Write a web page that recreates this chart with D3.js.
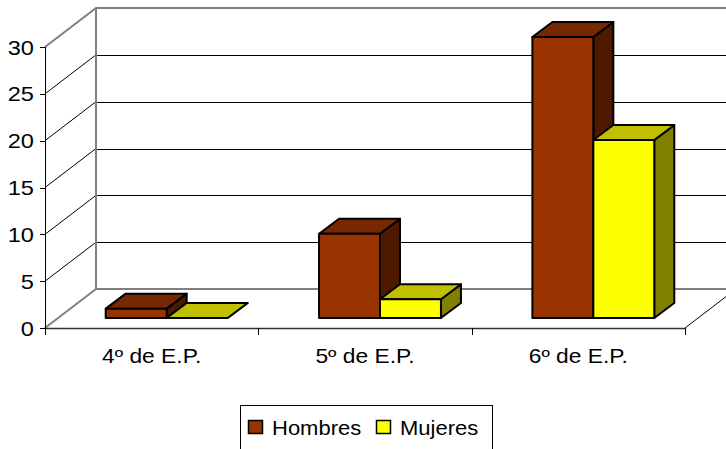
<!DOCTYPE html>
<html>
<head>
<meta charset="utf-8">
<script src="https://cdn.jsdelivr.net/npm/d3@7"></script>
<style>
  body { margin: 0; background: #fff; }
  text { font-family: "Liberation Sans", Arial, sans-serif; fill: #000; }
</style>
</head>
<body>
<div id="chart"></div>
<script>
// 1. DATA
const categories = ["4º de E.P.", "5º de E.P.", "6º de E.P."]
const seriesNames = ["Hombres", "Mujeres"]
const hombres = [1, 9, 30]
const mujeres = [0, 2, 19]
const yTicks = [0, 5, 10, 15, 20, 25, 30]

const seriesColors = {
    Hombres: { front: "#993300", top: "#782800", side: "#4d1a00" },
    Mujeres: { front: "#ffff00", top: "#c0c000", side: "#808000" },
}

const table = categories.map((c, i) => ({
    category: c,
    values: [
        { key: "Hombres", value: hombres[i] },
        { key: "Mujeres", value: mujeres[i] },
    ]
}))

// 2. DIMENSIONS
const width = 726
const height = 449
const plot = { left: 45, right: 685, top: 47, bottom: 328 }
// depth of the 3d box, and where the bars sit in it
const depth = { dx: 51, dy: -39 }
const barPlaneFront = { dx: 15, dy: -10 }
const barDepth = { dx: 20, dy: -15 }
const textStretch = 1.18

// 3. CANVAS
const svg = d3.select("#chart").append("svg")
    .attr("width", width)
    .attr("height", height)

// 4. SCALES
const xScale = d3.scaleBand()
    .domain(categories)
    .range([plot.left, plot.right])
    .padding(0)

const seriesScale = d3.scaleBand()
    .domain(seriesNames)
    .range([0, xScale.bandwidth()])
    .paddingInner(0)
    .paddingOuter(0.75)

const yScale = d3.scaleLinear()
    .domain([0, 30])
    .range([plot.bottom, plot.top])

const grey = "#808080"

// 5. WALLS AND GRID
const walls = svg.append("g")

// side wall diagonals
yTicks.slice(1, -1).forEach(t => {
    walls.append("line")
        .attr("x1", plot.left).attr("y1", yScale(t))
        .attr("x2", plot.left + depth.dx).attr("y2", yScale(t) + depth.dy)
        .attr("stroke", "#000").attr("stroke-width", 1)
})
// back wall grid lines
yTicks.slice(1, -1).forEach(t => {
    walls.append("line")
        .attr("x1", plot.left + depth.dx).attr("y1", Math.round(yScale(t) + depth.dy) + 0.5)
        .attr("x2", plot.right + depth.dx).attr("y2", Math.round(yScale(t) + depth.dy) + 0.5)
        .attr("stroke", "#000").attr("stroke-width", 1)
})

const bx0 = plot.left + depth.dx
const bx1 = plot.right + depth.dx
const byTop = yScale(30) + depth.dy
const byBot = yScale(0) + depth.dy

walls.append("path")
    .attr("d", `M${plot.left},${yScale(30)} L${bx0},${byTop} L${bx1},${byTop}`)
    .attr("fill", "none").attr("stroke", grey).attr("stroke-width", 2)
walls.append("path")
    .attr("d", `M${bx0},${byTop} L${bx0},${byBot} L${bx1},${byBot}`)
    .attr("fill", "none").attr("stroke", grey).attr("stroke-width", 2)
walls.append("line")
    .attr("x1", plot.left).attr("y1", yScale(0))
    .attr("x2", bx0).attr("y2", byBot)
    .attr("stroke", grey).attr("stroke-width", 2)
walls.append("line")
    .attr("x1", plot.right).attr("y1", yScale(0))
    .attr("x2", bx1).attr("y2", byBot)
    .attr("stroke", "#000").attr("stroke-width", 1)

// 6. BARS
const bars = svg.append("g")
    .attr("stroke", "#000")
    .attr("stroke-width", 2)
    .attr("stroke-linejoin", "round")

const fx = barPlaneFront.dx, fy = barPlaneFront.dy
const ddx = barDepth.dx, ddy = barDepth.dy

table.forEach(d => {
    d.values.forEach(v => {
        const c = seriesColors[v.key]
        const x0 = xScale(d.category) + seriesScale(v.key) + fx
        const x1 = x0 + seriesScale.bandwidth()
        const y0 = yScale(0) + fy
        const y1 = yScale(v.value) + fy
        // side
        bars.append("path")
            .attr("d", `M${x1},${y1} L${x1 + ddx},${y1 + ddy} L${x1 + ddx},${y0 + ddy} L${x1},${y0} Z`)
            .attr("fill", c.side)
        // top
        bars.append("path")
            .attr("d", `M${x0},${y1} L${x0 + ddx},${y1 + ddy} L${x1 + ddx},${y1 + ddy} L${x1},${y1} Z`)
            .attr("fill", c.top)
        // front
        bars.append("rect")
            .attr("x", x0).attr("y", y1)
            .attr("width", x1 - x0).attr("height", y0 - y1)
            .attr("fill", c.front)
    })
})

// 7. AXES
const axes = svg.append("g")

axes.append("line")
    .attr("x1", plot.left + 0.5).attr("y1", yScale(30))
    .attr("x2", plot.left + 0.5).attr("y2", yScale(0))
    .attr("stroke", "#000").attr("stroke-width", 1)
axes.append("line")
    .attr("x1", plot.left).attr("y1", yScale(0) + 0.5)
    .attr("x2", plot.right).attr("y2", yScale(0) + 0.5)
    .attr("stroke", "#333").attr("stroke-width", 1.5)

yTicks.forEach(t => {
    const y = Math.round(yScale(t)) + 0.5
    axes.append("line")
        .attr("x1", plot.left - 5).attr("y1", y)
        .attr("x2", plot.left).attr("y2", y)
        .attr("stroke", "#000")
    axes.append("text")
        .attr("transform", `translate(34,${yScale(t) + 7.5}) scale(${textStretch},1)`)
        .attr("text-anchor", "end")
        .style("font-size", "20px")
        .text(t)
})

const boundaries = categories.map(c => xScale(c)).concat([plot.right])
boundaries.forEach(x => {
    axes.append("line")
        .attr("x1", Math.round(x) + 0.5).attr("y1", yScale(0))
        .attr("x2", Math.round(x) + 0.5).attr("y2", yScale(0) + 7)
        .attr("stroke", "#000")
})

categories.forEach(c => {
    axes.append("text")
        .attr("transform", `translate(${xScale(c) + xScale.bandwidth() / 2},363) scale(1.14,1)`)
        .attr("text-anchor", "middle")
        .style("font-size", "20px")
        .text(c)
})

// 8. LEGEND
const legend = svg.append("g")
legend.append("rect")
    .attr("x", 240.5).attr("y", 405.5)
    .attr("width", 252).attr("height", 60)
    .attr("fill", "#fff").attr("stroke", "#000")

const legendItems = [
    { key: "Hombres", x: 248 },
    { key: "Mujeres", x: 376 },
]
legendItems.forEach(d => {
    legend.append("rect")
        .attr("x", d.x + 0.5).attr("y", 420.5)
        .attr("width", 14).attr("height", 13)
        .attr("fill", seriesColors[d.key].front)
        .attr("stroke", "#000").attr("stroke-width", 1.5)
    legend.append("text")
        .attr("transform", `translate(${d.x + 24},434.5) scale(1.1,1)`)
        .style("font-size", "20px")
        .text(d.key)
})
</script>
</body>
</html>
